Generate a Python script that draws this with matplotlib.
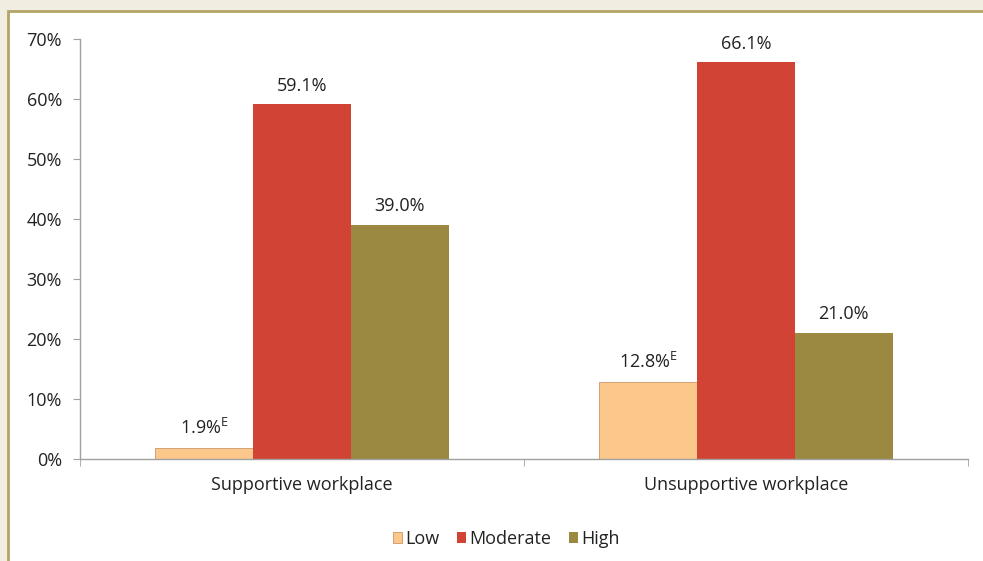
import matplotlib
matplotlib.use("Agg")
import matplotlib.pyplot as plt
from matplotlib.patches import Rectangle
import numpy as np

plt.rcParams['font.family'] = ['Open Sans', 'DejaVu Sans']
plt.rcParams['mathtext.fontset'] = 'custom'
plt.rcParams['mathtext.rm'] = 'Open Sans'

# dati del grafico
categorie = ['Supportive workplace', 'Unsupportive workplace']
livelli = ['Low', 'Moderate', 'High']
valori = {
    'Low': [1.9, 12.8],
    'Moderate': [59.1, 66.1],
    'High': [39.0, 21.0],
}
etichette = {
    'Low': ['1.9%$^{\\mathregular{E}}$', '12.8%$^{\\mathregular{E}}$'],
    'Moderate': ['59.1%', '66.1%'],
    'High': ['39.0%', '21.0%'],
}
colori = {'Low': '#FBC78A', 'Moderate': '#D14334', 'High': '#9B8841'}
yticks = [0, 10, 20, 30, 40, 50, 60, 70]

fig = plt.figure(figsize=(9.83, 5.61), dpi=100)
fig.patch.set_facecolor('#f1ede1')
# cornice bianca con bordo oliva
fig.patches.append(Rectangle((8 / 983, -0.02), 1.0, 1 - 11 / 561 + 0.02,
                             transform=fig.transFigure, facecolor='white',
                             edgecolor='#b3a468', linewidth=2, zorder=-5))

ax = fig.add_axes([80 / 983, 1 - 459 / 561, 888 / 983, 420 / 561])
ax.set_facecolor('none')

x = np.arange(len(categorie))
larghezza = 0.22
for i, liv in enumerate(livelli):
    pos = x + (i - 1) * larghezza
    barre = ax.bar(pos, valori[liv], larghezza, color=colori[liv],
                   edgecolor='#c08858' if liv == 'Low' else 'none',
                   linewidth=0.5, label=liv, zorder=2)
    for b, testo in zip(barre, etichette[liv]):
        ax.annotate(testo, (b.get_x() + b.get_width() / 2, b.get_height()),
                    xytext=(0, 7), textcoords='offset points',
                    ha='center', va='bottom', fontsize=13, color='#222222')

ax.set_xlim(-0.5, 1.5)
ax.set_ylim(0, 70)
ax.set_yticks(yticks)
ax.set_yticklabels([f'{v}%' for v in yticks])
ax.set_xticks(x)
ax.set_xticklabels(categorie)
ax.set_xticks([-0.5, 0.5, 1.5], minor=True)
ax.tick_params(axis='x', which='major', length=0, pad=12, labelsize=13, labelcolor='#222222')
ax.tick_params(axis='x', which='minor', length=5, direction='out', color='#a0a0a0')
ax.tick_params(axis='y', length=5, direction='out', color='#a0a0a0', labelsize=13,
               labelcolor='#222222', pad=8)

for s in ['top', 'right']:
    ax.spines[s].set_visible(False)
for s in ['left', 'bottom']:
    ax.spines[s].set_color('#a0a0a0')
    ax.spines[s].set_linewidth(1)

ax.legend(loc='upper center', bbox_to_anchor=(0.48, -0.13), ncol=3, frameon=False,
          handlelength=0.5, handleheight=0.5, handletextpad=0.15, columnspacing=1.0,
          fontsize=13, labelcolor='#222222')

fig.savefig('out.png', dpi=100, facecolor=fig.get_facecolor())
